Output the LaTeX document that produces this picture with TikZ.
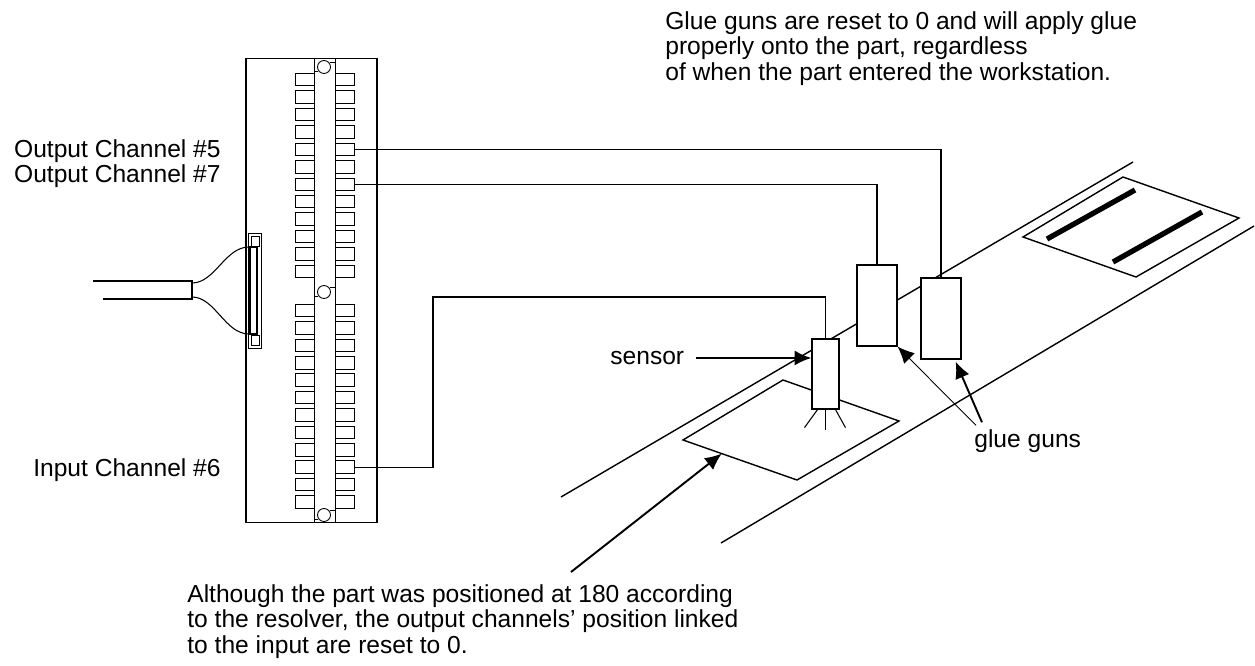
\documentclass[tikz,border=0pt]{standalone}
\usepackage{fontspec}
\setmainfont{Liberation Sans}
\usetikzlibrary{arrows.meta,calc}
\tikzstyle{note} = [inner sep=0pt, align=left, font=\fontsize{14}{14.5}\selectfont]
\tikzstyle{pin} = [rectangle, draw=black, line width=0.5pt, fill=white, minimum width=0.38cm, minimum height=0.25cm, inner sep=0pt]
\tikzstyle{gun} = [rectangle, draw=black, line width=0.7pt, fill=white, minimum width=0.8cm, minimum height=1.62cm, inner sep=0pt]
\tikzstyle{wire} = [line width=0.6pt]
\tikzstyle{belt} = [line width=0.8pt]
\tikzstyle{arrow} = [line width=1.1pt, -{Latex[length=9.5pt,width=8.5pt]}]
\tikzstyle{thinarrow} = [line width=0.5pt, -{Latex[length=9.5pt,width=8.5pt]}]

\begin{document}
\begin{tikzpicture}[x=0.02cm, y=-0.02cm]
\useasboundingbox (0,0) rectangle (1255,666);

% conveyor
\draw[belt] (561,497) -- (1133,162);
\draw[belt] (721,543) -- (1254,226);
\draw[belt, fill=white] (1023,237) -- (1123,177) -- (1239,218) -- (1136,277) -- cycle;
\draw[line width=3pt] (1047,239) -- (1135,190);
\draw[line width=3pt] (1113,262) -- (1202,212);
\coordinate (part1) at (683,440);
\coordinate (part2) at (783,380);
\coordinate (part3) at (899,421);
\coordinate (part4) at (797,480);
\draw[belt] (part1) -- (part2) -- (part3) -- (part4) -- cycle;

% sensor and glue guns
\node(sens) [gun, minimum width=0.54cm, minimum height=1.4cm] at (825.5,374) {};
\node(gunA) [gun] at (877,305.5) {};
\node(gunB) [gun] at (941,318.5) {};
\draw[wire] (sens.south) -- ++(0,20);
\draw[wire] ($(sens.south)+(-8,0)$) -- ++(-13,18);
\draw[wire] ($(sens.south)+(10,0)$) -- ++(10,18);

% I/O module
\node(module) [draw, line width=0.6pt, minimum width=2.62cm, minimum height=9.3cm, inner sep=0pt] at (311.5,290.5) {};
\draw[line width=0.5pt] (314,58) -- (314,523);
\draw[line width=0.5pt] (335,58) -- (335,523);
\foreach \cy in {67,292,515} {
  \draw[line width=0.5pt, fill=white] (324,\cy) circle[radius=0.13cm];
  \draw[line width=0.5pt] (314,\cy+4) -- (318,\cy+4);
  \draw[line width=0.5pt] (335,\cy-5) -- (330,\cy-5);
}
\foreach \i in {1,...,12} {
  \node(pinL\i) [pin] at (304.5,79.5+17.45*\i-17.45) {};
  \node(pinR\i) [pin] at (344.5,79.5+17.45*\i-17.45) {};
}
\foreach \i in {13,...,24} {
  \node(pinL\i) [pin] at (304.5,310.5+17.4*\i-226.2) {};
  \node(pinR\i) [pin] at (344.5,310.5+17.4*\i-226.2) {};
}

% cable and plug
\draw[wire] (93,281) -- (192,281) -- (192,299) -- (103,299);
\draw[wire] (192,283) .. controls (215,283) and (225,247) .. (249,247);
\draw[wire] (192,297) .. controls (215,297) and (225,334) .. (249,334);
\node(plug) [draw, line width=0.5pt, fill=white, minimum width=0.26cm, minimum height=2.3cm, inner sep=0pt] at (254.5,290.5) {};
\draw[line width=1pt] (250,247) rectangle (257,334);
\draw[line width=0.4pt] (251,236) rectangle (259,246);
\draw[line width=0.4pt] (251,335) rectangle (259,345);

% wires
\draw[wire] (pinR5.east) -| (gunB.north);
\draw[wire] (pinR7.east) -| (gunA.north);
\coordinate (bend) at (433,297);
\draw[wire] (pinR22.east) -| (bend) -| (sens.north);

% texts
\node(gluenote) [note, anchor=north west] at (665,11) {Glue guns are reset to 0 and will apply glue\\properly onto the part, regardless\\of when the part entered the workstation.};
\node(out5) [note, anchor=base east] at (221,157) {Output Channel \#5};
\node(out7) [note, anchor=base east] at (221,182) {Output Channel \#7};
\node(in6) [note, anchor=base east] at (221,476) {Input Channel \#6};
\node(senslabel) [note, anchor=base west] at (610,364.5) {sensor};
\node(gunlabel) [note, anchor=base west] at (974,447.5) {glue guns};
\node(partnote) [note, anchor=north west] at (187,584) {Although the part was positioned at 180 according\\to the resolver, the output channels’ position linked\\to the input are reset to 0.};

% pointers
\draw[arrow] ($(senslabel.east)+(11,0)$) -- (senslabel.east -| sens.west);
\draw[thinarrow] ($(gunlabel.north west)+(2,-4)$) -- (gunA.south east);
\draw[arrow] ($(gunlabel.north west)+(8,-7)$) -- ($(gunB.south east)+(-6,2)$);
\coordinate (partcue) at (571,572);
\draw[arrow] (partcue) -- ($(part1)!0.34!(part4)$);

\end{tikzpicture}
\end{document}
